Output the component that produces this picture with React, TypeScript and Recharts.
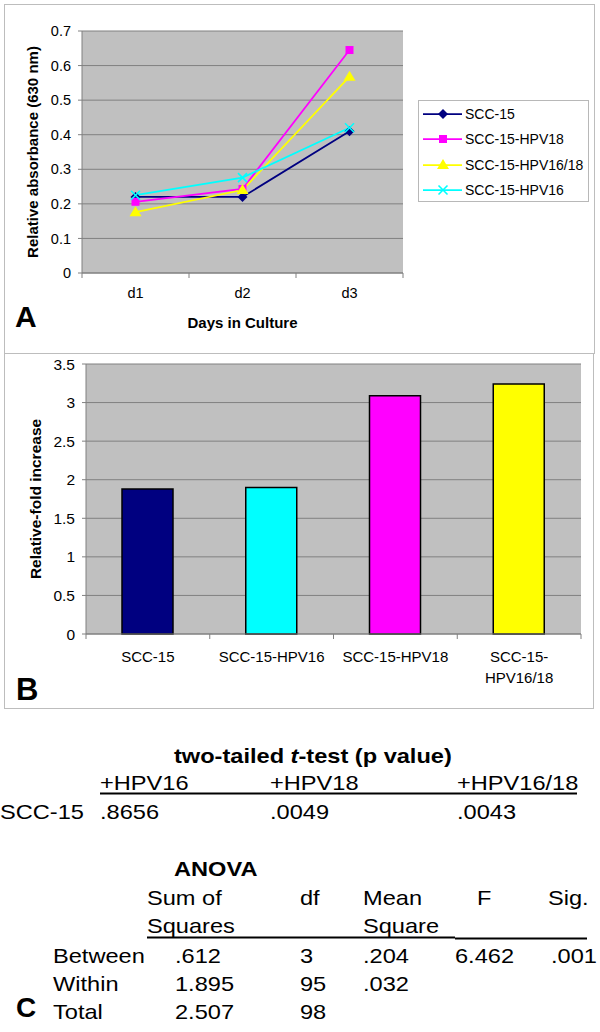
import React from 'react';
import { LineChart, Line, BarChart, Bar, Cell, XAxis, YAxis, CartesianGrid, Legend } from 'recharts';

const FONT = '"Liberation Sans", Arial, Helvetica, sans-serif';

// ---- Panel A data ----
const days = ['d1', 'd2', 'd3'];
const scc15 = [0.22, 0.22, 0.41];
const hpv18 = [0.206, 0.243, 0.645];
const hpv1618 = [0.176, 0.24, 0.568];
const hpv16 = [0.225, 0.276, 0.42];
const absTicks = [0, 0.1, 0.2, 0.3, 0.4, 0.5, 0.6, 0.7];

// ---- Panel B data ----
const foldCategories = ['SCC-15', 'SCC-15-HPV16', 'SCC-15-HPV18', 'SCC-15-HPV16/18'];
const foldLabelLines = [['SCC-15'], ['SCC-15-HPV16'], ['SCC-15-HPV18'], ['SCC-15-', 'HPV16/18']];
const foldValues = [1.88, 1.9, 3.09, 3.24];
const foldColors = ['#000080', '#00FFFF', '#FF00FF', '#FFFF00'];
const foldTicks = [0, 0.5, 1, 1.5, 2, 2.5, 3, 3.5];

// ---- Panel C data ----
const tTestTitle = ['two-tailed ', 't', '-test (p value)'];
const tTestCols = ['+HPV16', '+HPV18', '+HPV16/18'];
const tTestRowLabel = 'SCC-15';
const tTestP = ['.8656', '.0049', '.0043'];
const anovaTitle = 'ANOVA';
const anovaHeads = [['Sum of', 'Squares'], ['df'], ['Mean', 'Square'], ['F'], ['Sig.']];
const anovaRows = ['Between', 'Within', 'Total'];
const anovaSS = ['.612', '1.895', '2.507'];
const anovaDf = ['3', '95', '98'];
const anovaMS = ['.204', '.032', ''];
const anovaF = ['6.462', '', ''];
const anovaSig = ['.001', '', ''];

const lineSeries = [
  { key: 'scc15', name: 'SCC-15', color: '#000080', shape: 'diamond', values: scc15 },
  { key: 'hpv18', name: 'SCC-15-HPV18', color: '#FF00FF', shape: 'square', values: hpv18 },
  { key: 'hpv1618', name: 'SCC-15-HPV16/18', color: '#FFFF00', shape: 'triangle', values: hpv1618 },
  { key: 'hpv16', name: 'SCC-15-HPV16', color: '#00FFFF', shape: 'x', values: hpv16 },
];

const absData = days.map((d, i) => {
  const row: any = { day: d };
  lineSeries.forEach((s) => { row[s.key] = s.values[i]; });
  return row;
});

const foldData = foldCategories.map((c, i) => ({ line: c, fold: foldValues[i] }));

function Marker({ shape, cx, cy, color }: any) {
  if (cx == null || cy == null) return null;
  switch (shape) {
    case 'diamond':
      return <polygon points={`${cx},${cy - 5} ${cx + 5},${cy} ${cx},${cy + 5} ${cx - 5},${cy}`} fill={color} />;
    case 'square':
      return <rect x={cx - 4} y={cy - 4} width={8} height={8} fill={color} />;
    case 'triangle':
      return <polygon points={`${cx},${cy - 6} ${cx + 6},${cy + 4} ${cx - 6},${cy + 4}`} fill={color} />;
    default:
      return (
        <g stroke={color} strokeWidth={1.6}>
          <line x1={cx - 4.5} y1={cy - 4.5} x2={cx + 4.5} y2={cy + 4.5} />
          <line x1={cx - 4.5} y1={cy + 4.5} x2={cx + 4.5} y2={cy - 4.5} />
        </g>
      );
  }
}

const makeBoundaryTick = (getLines: (v: any, i: number) => string[], gap: number, lineH: number, fs: number) => (props: any) => {
  const { x, y, payload, index, visibleTicksCount, width } = props;
  const half = payload && typeof payload.offset === 'number' && payload.offset > 0
    ? payload.offset
    : width / (visibleTicksCount * 2);
  const axisY = y - gap;
  const lines = getLines(payload.value, index);
  return (
    <g>
      {index === 0 && <line x1={x - half} x2={x - half} y1={axisY} y2={axisY + 5} stroke="#808080" />}
      <line x1={x + half} x2={x + half} y1={axisY} y2={axisY + 5} stroke="#808080" />
      <text x={x} y={y} textAnchor="middle" fontSize={fs} fill="#000" fontFamily={FONT}>
        {lines.map((l, i) => (
          <tspan key={i} x={x} dy={i === 0 ? '0.71em' : lineH}>{l}</tspan>
        ))}
      </text>
    </g>
  );
};

const yLabel = (text: string, dx: number, fs: number) => (p: any) => {
  const vb = p.viewBox || {};
  return (
    <text
      transform={`translate(${vb.x + dx},${vb.y + vb.height / 2}) rotate(-90)`}
      textAnchor="middle"
      dominantBaseline="central"
      fontSize={fs}
      fontWeight="bold"
      fontFamily={FONT}
      fill="#000"
    >
      {text}
    </text>
  );
};

const xLabel = (text: string, dy: number) => (p: any) => {
  const vb = p.viewBox || {};
  return (
    <text x={vb.x + vb.width / 2} y={vb.y + dy} textAnchor="middle" fontSize={15} fontWeight="bold" fontFamily={FONT} fill="#000">
      {text}
    </text>
  );
};

const renderLegend = () => (
  <div
    style={{
      width: 171, height: 102, boxSizing: 'border-box', border: '1px solid #B8B8B8',
      background: '#fff', position: 'relative', fontFamily: FONT, color: '#000',
    }}
  >
    {lineSeries.map((s, i) => (
      <div key={s.key} style={{ position: 'absolute', left: 0, top: 13 + i * 25.4 - 11, height: 22, display: 'flex', alignItems: 'center', whiteSpace: 'nowrap' }}>
        <svg width={46} height={22} style={{ display: 'block' }}>
          <line x1={4} x2={43} y1={11} y2={11} stroke={s.color} strokeWidth={1.75} />
          <Marker shape={s.shape} cx={24} cy={11} color={s.color} />
        </svg>
        <span style={{ fontSize: 14, marginLeft: 0 }}>{s.name}</span>
      </div>
    ))}
  </div>
);

const tickStyleA = { fill: '#000', fontSize: 14.5, fontFamily: FONT };
const tickStyleB = { fill: '#000', fontSize: 15.5, fontFamily: FONT };

function CText({ x, y, children, bold }: any) {
  return (
    <text transform={`translate(${x},${y}) scale(1.18,1)`} fontSize={20} fontWeight={bold ? 'bold' : 'normal'} fontFamily={FONT} fill="#000">
      {children}
    </text>
  );
}

const tColX = [100, 270, 457];
const anovaHeadX = [147, 300, 363, 477, 548];
const anovaValX = [175, 300, 363, 455, 551];
const anovaRowY = [963, 991, 1019];

export default function App() {
  const anovaCols = [anovaSS, anovaDf, anovaMS, anovaF, anovaSig];
  return (
    <div style={{ position: 'absolute', left: 0, top: 0, width: 600, height: 1032, background: '#fff', fontFamily: FONT, overflow: 'hidden' }}>
      <div style={{ position: 'absolute', left: 4, top: 4, width: 591, height: 350, boxSizing: 'border-box', border: '1px solid #BDBDBD' }} />
      <div style={{ position: 'absolute', left: 4, top: 353, width: 590, height: 356, boxSizing: 'border-box', border: '1px solid #BDBDBD' }} />

      <div style={{ position: 'absolute', left: 0, top: 0 }}>
        <LineChart width={600} height={353} data={absData} margin={{ top: 31, right: 197, bottom: 20, left: 0 }}>
          <CartesianGrid vertical={false} stroke="#808080" fill="#C0C0C0" />
          <XAxis
            dataKey="day"
            scale="band"
            height={60}
            interval={0}
            tickSize={5}
            tickMargin={10}
            tickLine={false}
            axisLine={{ stroke: '#808080' }}
            tick={makeBoundaryTick((v) => [String(v)], 15, 21, 14.5)}
            label={xLabel('Days in Culture', 55)}
          />
          <YAxis
            width={82}
            domain={[0, 0.7]}
            ticks={absTicks}
            tickSize={4}
            tickMargin={7}
            axisLine={{ stroke: '#808080' }}
            tickLine={{ stroke: '#808080' }}
            tick={tickStyleA}
            label={yLabel('Relative absorbance (630 nm)', 32, 15)}
          />
          <YAxis yAxisId="r" orientation="right" width={0} domain={[0, 0.7]} tick={false} tickLine={false} axisLine={{ stroke: '#808080' }} />
          <Legend layout="vertical" align="center" verticalAlign="middle" wrapperStyle={{ left: 418, top: 100, width: 171, height: 102 }} content={renderLegend} />
          {lineSeries.map((s) => (
            <Line
              key={s.key}
              type="linear"
              dataKey={s.key}
              name={s.name}
              stroke={s.color}
              strokeWidth={1.75}
              isAnimationActive={false}
              dot={(p: any) => <Marker key={`${s.key}-${p.index}`} shape={s.shape} cx={p.cx} cy={p.cy} color={s.color} />}
              activeDot={false}
            />
          ))}
        </LineChart>
      </div>

      <div style={{ position: 'absolute', left: 0, top: 353 }}>
        <BarChart width={600} height={355} data={foldData} margin={{ top: 11, right: 19, bottom: 0, left: 0 }}>
          <CartesianGrid vertical={false} stroke="#808080" fill="#C0C0C0" />
          <XAxis
            dataKey="line"
            height={74}
            interval={0}
            tickSize={5}
            tickMargin={12}
            tickLine={false}
            axisLine={{ stroke: '#808080' }}
            tick={makeBoundaryTick((v, i) => foldLabelLines[i] || [String(v)], 17, 21, 15)}
          />
          <YAxis
            width={86}
            domain={[0, 3.5]}
            ticks={foldTicks}
            tickSize={4}
            tickMargin={7}
            axisLine={{ stroke: '#808080' }}
            tickLine={{ stroke: '#808080' }}
            tick={tickStyleB}
            label={yLabel('Relative-fold increase', 35, 15.5)}
          />
          <YAxis yAxisId="r" orientation="right" width={0} domain={[0, 3.5]} tick={false} tickLine={false} axisLine={{ stroke: '#808080' }} />
          <Bar dataKey="fold" barSize={51} stroke="#000" strokeWidth={1.5} isAnimationActive={false}>
            {foldData.map((d, i) => <Cell key={d.line} fill={foldColors[i]} />)}
          </Bar>
        </BarChart>
      </div>

      <svg width={600} height={1032} style={{ position: 'absolute', left: 0, top: 0, pointerEvents: 'none' }}>
        <text x={15} y={327} fontSize={30} fontWeight="bold" fontFamily={FONT} fill="#000">A</text>
        <text x={16} y={700} fontSize={31} fontWeight="bold" fontFamily={FONT} fill="#000">B</text>
        <text x={16} y={1017} fontSize={28} fontWeight="bold" fontFamily={FONT} fill="#000">C</text>

        <CText x={174} y={763} bold>
          {tTestTitle[0]}<tspan fontStyle="italic">{tTestTitle[1]}</tspan>{tTestTitle[2]}
        </CText>
        {tTestCols.map((c, i) => <CText key={c} x={tColX[i]} y={790}>{c}</CText>)}
        <line x1={100} x2={577} y1={793.5} y2={793.5} stroke="#000" strokeWidth={1.8} />
        <CText x={0} y={819}>{tTestRowLabel}</CText>
        {tTestP.map((p, i) => <CText key={i} x={tColX[i]} y={819}>{p}</CText>)}

        <CText x={174} y={876} bold>{anovaTitle}</CText>
        {anovaHeads.map((h, i) => h.map((t, j) => <CText key={`${i}-${j}`} x={anovaHeadX[i]} y={905 + j * 28}>{t}</CText>))}
        <line x1={147} x2={455} y1={937.5} y2={937.5} stroke="#000" strokeWidth={1.8} />
        <line x1={455} x2={587} y1={938.5} y2={938.5} stroke="#000" strokeWidth={1.8} />
        {anovaRows.map((r, i) => <CText key={r} x={53} y={anovaRowY[i]}>{r}</CText>)}
        {anovaCols.map((col, ci) => col.map((v, ri) => v ? <CText key={`${ci}-${ri}`} x={anovaValX[ci]} y={anovaRowY[ri]}>{v}</CText> : null))}
      </svg>
    </div>
  );
}
